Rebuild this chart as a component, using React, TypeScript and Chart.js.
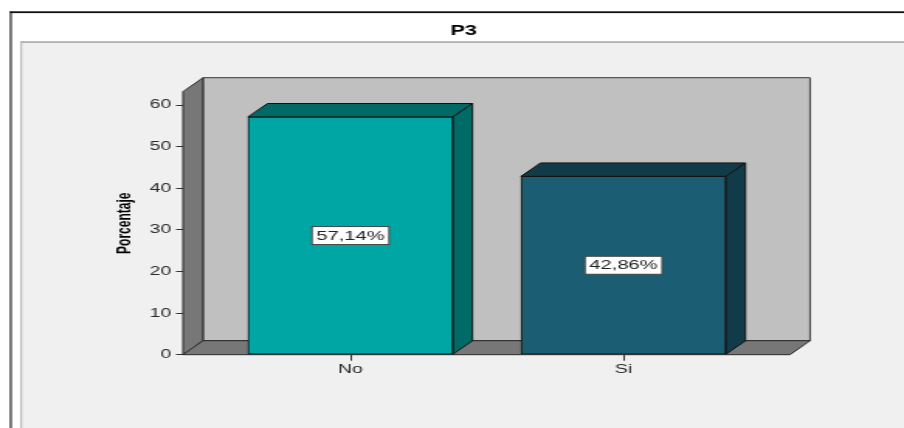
import { useEffect, useRef } from 'react';
import { Chart, registerables } from 'chart.js';

Chart.register(...registerables);

const chartTitle = 'P3';
const axisTitle = 'Porcentaje';
const categories = ['No', 'Si'];
const percentages = [57.14, 42.86];
const yTickValues = [0, 10, 20, 30, 40, 50, 60];
const frontColors = ['#00a6a3', '#1b5e74'];
const shadeColors = ['#006a66', '#123b49'];

const CANVAS_W = 583;
const CANVAS_H = 428;
const STRETCH = 904 / CANVAS_W;
const FONT = '"Liberation Sans", Arial, "Noto Sans", sans-serif';
const WALL_DX = 12.9;
const WALL_DY = -14;
const BAR_DX = 12.5;
const BAR_DY = -13.4;

function poly(ctx: CanvasRenderingContext2D, pts: number[][], fill: string, stroke: string) {
  ctx.beginPath();
  ctx.moveTo(pts[0][0], pts[0][1]);
  for (let i = 1; i < pts.length; i++) ctx.lineTo(pts[i][0], pts[i][1]);
  ctx.closePath();
  ctx.fillStyle = fill;
  ctx.fill();
  ctx.strokeStyle = stroke;
  ctx.lineWidth = 1;
  ctx.stroke();
}

const scenePlugin = {
  id: 'scene3d',
  beforeDraw(chart: any) {
    const ctx: CanvasRenderingContext2D = chart.ctx;
    ctx.save();
    ctx.fillStyle = '#ffffff';
    ctx.fillRect(0, 0, CANVAS_W, CANVAS_H);
    // outer frame
    ctx.fillStyle = '#111111';
    ctx.fillRect(6.4, 11.3, CANVAS_W, 1.8);
    ctx.fillRect(6.4, 11.3, 1.1, CANVAS_H);
    // inner panel
    ctx.fillStyle = '#f0f0f0';
    ctx.fillRect(13.4, 41.5, CANVAS_W, CANVAS_H);
    ctx.fillStyle = '#a8a8a8';
    ctx.fillRect(13.4, 41.3, CANVAS_W, 1.6);
    ctx.fillRect(13.3, 41.3, 0.9, CANVAS_H);
    // title
    ctx.fillStyle = '#000000';
    ctx.font = `bold 14px ${FONT}`;
    ctx.textAlign = 'center';
    ctx.textBaseline = 'middle';
    ctx.fillText(chartTitle, 299, 31);
    ctx.restore();
  },
  beforeDatasetsDraw(chart: any) {
    const ctx: CanvasRenderingContext2D = chart.ctx;
    const { left, right, top, bottom } = chart.chartArea;
    ctx.save();
    // back wall
    poly(ctx, [
      [left + WALL_DX, top + WALL_DY],
      [right + WALL_DX, top + WALL_DY],
      [right + WALL_DX, bottom + WALL_DY],
      [left + WALL_DX, bottom + WALL_DY],
    ], '#c0c0c0', '#3a3a3a');
    // left wall
    poly(ctx, [
      [left, top],
      [left + WALL_DX, top + WALL_DY],
      [left + WALL_DX, bottom + WALL_DY],
      [left, bottom],
    ], '#777777', '#2a2a2a');
    // floor
    poly(ctx, [
      [left, bottom],
      [left + WALL_DX, bottom + WALL_DY],
      [right + WALL_DX, bottom + WALL_DY],
      [right, bottom],
    ], '#777777', '#2a2a2a');
    ctx.restore();
  },
  afterDatasetsDraw(chart: any) {
    const ctx: CanvasRenderingContext2D = chart.ctx;
    const meta = chart.getDatasetMeta(0);
    ctx.save();
    meta.data.forEach((bar: any, i: number) => {
      const { x, y, base, width } = bar.getProps(['x', 'y', 'base', 'width'], true);
      const l = x - width / 2;
      const r = x + width / 2;
      poly(ctx, [[l, y], [l + BAR_DX, y + BAR_DY], [r + BAR_DX, y + BAR_DY], [r, y]], shadeColors[i], '#111111');
      poly(ctx, [[r, y], [r + BAR_DX, y + BAR_DY], [r + BAR_DX, base + BAR_DY], [r, base]], shadeColors[i], '#111111');
      // value label
      const text = percentages[i].toFixed(2).replace('.', ',') + '%';
      ctx.font = `13px ${FONT}`;
      const tw = ctx.measureText(text).width;
      const bw = tw + 5.6;
      const bh = 18;
      const cy = (y + base) / 2;
      ctx.fillStyle = '#ffffff';
      ctx.fillRect(x - bw / 2, cy - bh / 2, bw, bh);
      ctx.strokeStyle = '#444444';
      ctx.lineWidth = 1;
      ctx.strokeRect(x - bw / 2, cy - bh / 2, bw, bh);
      ctx.fillStyle = '#222222';
      ctx.textAlign = 'center';
      ctx.textBaseline = 'middle';
      ctx.fillText(text, x, cy + 0.5);
    });
    ctx.restore();
  },
};

export default function App() {
  const canvasRef = useRef<HTMLCanvasElement | null>(null);

  useEffect(() => {
    const canvas = canvasRef.current;
    if (!canvas) return;
    const chart = new Chart(canvas, {
      type: 'bar',
      data: {
        datasets: [
          {
            data: categories.map((c, i) => ({ x: i, y: percentages[i] })),
            backgroundColor: frontColors,
            borderColor: '#111111',
            borderWidth: 1,
            borderSkipped: false,
            barThickness: 132.2,
          },
        ],
      },
      options: {
        responsive: false,
        animation: false,
        events: [],
        layout: { padding: { left: 15, right: 73.5, top: 91.7, bottom: 0 } },
        plugins: {
          legend: { display: false },
          tooltip: { enabled: false },
          title: { display: false },
        },
        scales: {
          x: {
            type: 'linear',
            offset: false,
            min: -0.6135,
            max: 1.6099,
            afterBuildTicks: (scale: any) => {
              scale.ticks = categories.map((_, i) => ({ value: i }));
            },
            afterFit: (scale: any) => {
              scale.height = 73.3;
            },
            ticks: {
              callback: (v: any) => categories[v] ?? '',
              font: { family: FONT, size: 12.5 },
              color: '#2a2a2a',
              padding: 1.5,
              maxRotation: 0,
              autoSkip: false,
            },
            grid: { offset: false, drawOnChartArea: false, drawTicks: true, tickLength: 6, color: '#333333' },
            border: { display: false },
          },
          y: {
            type: 'linear',
            min: 0,
            max: 63.2,
            afterBuildTicks: (scale: any) => {
              scale.ticks = yTickValues.map((v) => ({ value: v }));
            },
            afterFit: (scale: any) => {
              scale.width = 103;
            },
            ticks: {
              font: { family: FONT, size: 12.5 },
              color: '#2a2a2a',
              padding: 3,
            },
            grid: { drawOnChartArea: false, drawTicks: true, tickLength: 4.5, color: '#333333' },
            border: { display: false },
            title: {
              display: true,
              text: axisTitle,
              color: '#000000',
              font: { family: FONT, size: 12, weight: 'bold' },
              padding: { top: 58.4, bottom: 0 },
            },
          },
        },
      },
      plugins: [scenePlugin],
    } as any);
    return () => chart.destroy();
  }, []);

  return (
    <div
      style={{
        position: 'fixed',
        left: 0,
        top: 0,
        width: CANVAS_W,
        height: CANVAS_H,
        transform: `scaleX(${STRETCH})`,
        transformOrigin: '0 0',
      }}
    >
      <canvas
        ref={canvasRef}
        width={CANVAS_W}
        height={CANVAS_H}
        style={{ display: 'block', width: CANVAS_W, height: CANVAS_H }}
      />
    </div>
  );
}
